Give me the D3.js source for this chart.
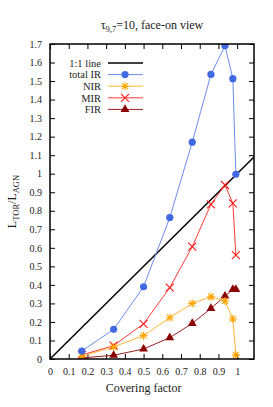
<!DOCTYPE html>
<html>
<head>
<meta charset="utf-8">
<script src="https://cdn.jsdelivr.net/npm/d3@7"></script>
<style>
  body { margin: 0; background: #fff; }
  svg text { font-family: "Liberation Serif", "Times New Roman", "DejaVu Serif", serif !important; fill: #222; }
</style>
</head>
<body>
<div id="viz"></div>
<script>
// covering factor values
const coverFactor = [0.17, 0.34, 0.5, 0.64, 0.76, 0.86, 0.935, 0.977, 0.993];
const totalIR = [0.043, 0.16, 0.39, 0.763, 1.17, 1.536, 1.69, 1.513, 0.997];
const nirVals = [0.015, 0.065, 0.126, 0.223, 0.3, 0.336, 0.313, 0.216, 0.022];
const mirVals = [0.022, 0.072, 0.19, 0.385, 0.606, 0.835, 0.939, 0.84, 0.561];
const firVals = [0.006, 0.02, 0.054, 0.115, 0.192, 0.273, 0.34, 0.376, 0.376];
const xTicks = [0, 0.1, 0.2, 0.3, 0.4, 0.5, 0.6, 0.7, 0.8, 0.9, 1];
const yTicks = [0, 0.1, 0.2, 0.3, 0.4, 0.5, 0.6, 0.7, 0.8, 0.9, 1, 1.1, 1.2, 1.3, 1.4, 1.5, 1.6, 1.7];
const legendNames = ["1:1 line", "total IR", "NIR", "MIR", "FIR"];

const serif = "Liberation Serif, Times New Roman, serif";
const width = 273, height = 407;
const margin = { left: 50, right: 19, top: 44, bottom: 48 };
const w = width - margin.left - margin.right,
  h = height - margin.top - margin.bottom;

const svg = d3.select("#viz").append("svg")
  .attr("width", width)
  .attr("height", height)
  .attr("font-family", serif);

const xScale = d3.scaleLinear().domain([0, 1.09]).range([0, w]);
const yScale = d3.scaleLinear().domain([0, 1.7]).range([h, 0]);

const g = svg.append("g").attr("transform", `translate(${margin.left},${margin.top})`);

// axes: ticks pointing inward, mirrored on top/right
const fmt = d => d3.format("")(+d.toFixed(1));
g.append("g").attr("transform", `translate(0,${h})`)
  .call(d3.axisBottom(xScale).tickValues(xTicks).tickSize(-5).tickPadding(9).tickFormat(fmt));
g.append("g")
  .call(d3.axisTop(xScale).tickValues(xTicks).tickSize(-5).tickFormat(""));
g.append("g")
  .call(d3.axisLeft(yScale).tickValues(yTicks).tickSize(-5).tickPadding(8).tickFormat(fmt));
g.append("g").attr("transform", `translate(${w},0)`)
  .call(d3.axisRight(yScale).tickValues(yTicks).tickSize(-5).tickFormat(""));

g.selectAll(".domain").remove();
g.selectAll("g").attr("font-family", serif);
g.selectAll(".tick line").attr("stroke", "#000").attr("stroke-width", 1);
g.selectAll(".tick text").attr("font-size", 10).attr("fill", "#222");

svg.append("clipPath").attr("id", "clip")
  .append("rect").attr("width", w).attr("height", h);

const plot = g.append("g").attr("clip-path", "url(#clip)");

// 1:1 line
plot.append("line")
  .attr("x1", xScale(0)).attr("y1", yScale(0))
  .attr("x2", xScale(1.09)).attr("y2", yScale(1.09))
  .attr("stroke", "#000").attr("stroke-width", 1.5);

const series = [
  { name: "total IR", vals: totalIR, color: "#4169e1", line: "#6d8ceb", marker: "circle" },
  { name: "NIR", vals: nirVals, color: "#ffa500", line: "#ffb733", marker: "star" },
  { name: "MIR", vals: mirVals, color: "#ff1a1a", line: "#ff3b3b", marker: "cross" },
  { name: "FIR", vals: firVals, color: "#8b0000", line: "#9b2020", marker: "triangle" }
];

const line = d3.line()
  .x((d, i) => xScale(coverFactor[i]))
  .y(d => yScale(d));

function drawMarker(sel, type, color) {
  if (type === "circle") {
    sel.append("circle").attr("r", 3.6).attr("fill", color);
  } else if (type === "cross") {
    sel.append("path").attr("d", "M-4,-4L4,4M-4,4L4,-4")
      .attr("stroke", color).attr("stroke-width", 1.1).attr("fill", "none");
  } else if (type === "star") {
    sel.append("path").attr("d", "M-4,0L4,0M0,-4L0,4M-3,-3L3,3M-3,3L3,-3")
      .attr("stroke", color).attr("stroke-width", 1.1).attr("fill", "none");
  } else if (type === "triangle") {
    sel.append("path").attr("d", d3.symbol().type(d3.symbolTriangle).size(34)())
      .attr("fill", color);
  }
}

series.slice().reverse().forEach(s => {
  plot.append("path").datum(s.vals)
    .attr("d", line)
    .attr("fill", "none")
    .attr("stroke", s.line)
    .attr("stroke-width", 1);
});
series.slice().reverse().forEach(s => {
  s.vals.forEach((v, i) => {
    const m = plot.append("g")
      .attr("transform", `translate(${xScale(coverFactor[i])},${yScale(v)})`);
    drawMarker(m, s.marker, s.color);
  });
});

// frame
g.append("rect").attr("width", w).attr("height", h)
  .attr("fill", "none").attr("stroke", "#000").attr("stroke-width", 1.5);

// legend
const legend = g.append("g").attr("transform", "translate(0,19)");
legendNames.forEach((name, i) => {
  const row = legend.append("g").attr("transform", `translate(0,${i * 11.6})`);
  row.append("text").attr("x", 51).attr("y", 3.8).attr("text-anchor", "end")
    .attr("font-size", 10.5).text(name);
  const s = series.find(d => d.name === name);
  row.append("line").attr("x1", 58).attr("x2", 93).attr("y1", 0).attr("y2", 0)
    .attr("stroke", s ? s.line : "#000").attr("stroke-width", s ? 1 : 1.5);
  if (s) {
    const m = row.append("g").attr("transform", "translate(75,0)");
    drawMarker(m, s.marker, s.color);
  }
});

// title
const title = svg.append("text")
  .attr("x", margin.left + w / 2).attr("y", 29)
  .attr("text-anchor", "middle").attr("font-size", 12);
title.append("tspan").text("τ");
title.append("tspan").attr("font-size", 8.5).attr("dy", 3).text("9,7");
title.append("tspan").attr("dy", -3).text("=10, face-on view");

// x label
svg.append("text")
  .attr("x", margin.left + xScale(0.5)).attr("y", 392)
  .attr("text-anchor", "middle").attr("font-size", 12)
  .text("Covering factor");

// y label
const ylab = svg.append("text")
  .attr("transform", `translate(16,${margin.top + h / 2}) rotate(-90)`)
  .attr("text-anchor", "middle").attr("font-size", 12);
ylab.append("tspan").text("L");
ylab.append("tspan").attr("font-size", 8.5).attr("dy", 3).text("TOR");
ylab.append("tspan").attr("dy", -3).text("/L");
ylab.append("tspan").attr("font-size", 8.5).attr("dy", 3).text("AGN");
</script>
</body>
</html>
